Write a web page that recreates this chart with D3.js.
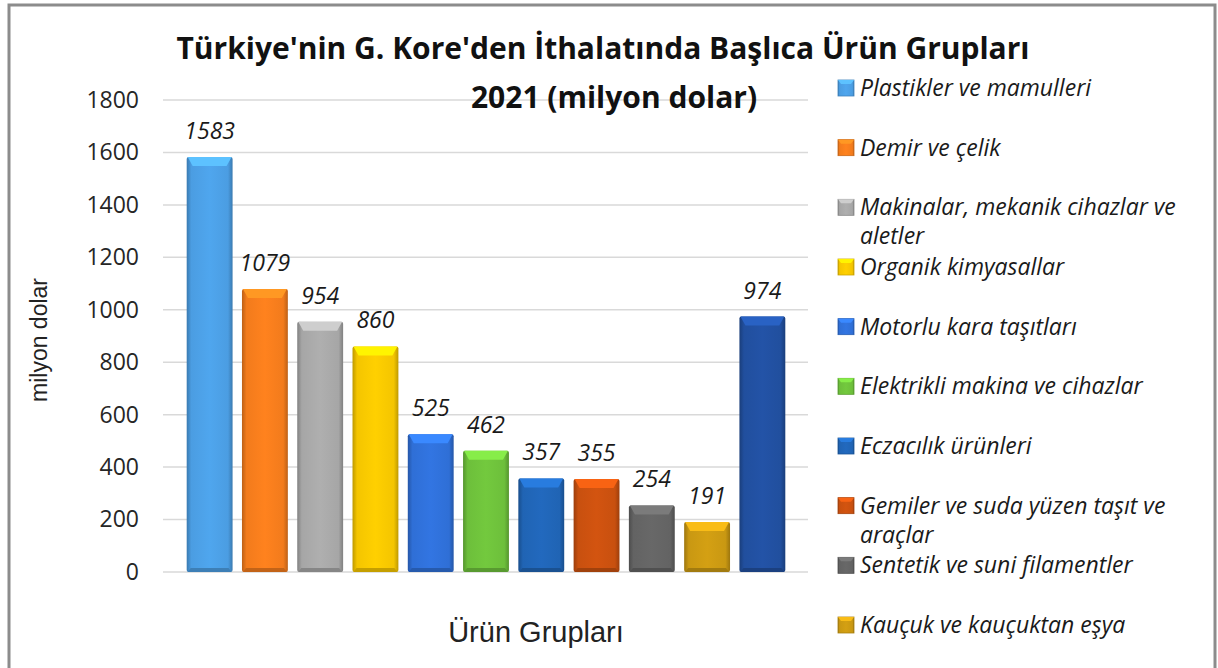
<!DOCTYPE html>
<html>
<head>
    <meta charset="utf-8">
    <title>Türkiye G. Kore ithalat</title>
    <script src="https://d3js.org/d3.v7.min.js"></script>
    <style>
        body { margin: 0; background: #fff; }
        svg { display: block; }
    </style>
</head>
<body>
    <svg id="chart"></svg>

    <script>
        // Data
        const categories = [
            "Plastikler ve mamulleri",
            "Demir ve çelik",
            "Makinalar, mekanik cihazlar ve aletler",
            "Organik kimyasallar",
            "Motorlu kara taşıtları",
            "Elektrikli makina ve cihazlar",
            "Eczacılık ürünleri",
            "Gemiler ve suda yüzen taşıt ve araçlar",
            "Sentetik ve suni filamentler",
            "Kauçuk ve kauçuktan eşya",
            "Diğer"
        ];
        const values = [1583, 1079, 954, 860, 525, 462, 357, 355, 254, 191, 974];
        const yTicks = [0, 200, 400, 600, 800, 1000, 1200, 1400, 1600, 1800];

        // Legend text, wrapped like in the original (last bar has no legend entry)
        const legendLines = [
            ["Plastikler ve mamulleri"],
            ["Demir ve çelik"],
            ["Makinalar, mekanik cihazlar ve", "aletler"],
            ["Organik kimyasallar"],
            ["Motorlu kara taşıtları"],
            ["Elektrikli makina ve cihazlar"],
            ["Eczacılık ürünleri"],
            ["Gemiler ve suda yüzen taşıt ve", "araçlar"],
            ["Sentetik ve suni filamentler"],
            ["Kauçuk ve kauçuktan eşya"]
        ];

        const colors = ["#4b9de2", "#f27b1c", "#a6a6a6", "#f4c500", "#2f6fd6",
                        "#6dbf3b", "#2064b4", "#c8500f", "#636363", "#c99812", "#214f9e"];

        const width = 1218, height = 668;
        const svg = d3.select("#chart")
            .attr("width", width)
            .attr("height", height);

        // Outer frame
        svg.append("rect")
            .attr("x", 9).attr("y", 5)
            .attr("width", 1206).attr("height", 680)
            .attr("fill", "#fff")
            .attr("stroke", "#8c8c8c")
            .attr("stroke-width", 3);

        // Scales
        const x = d3.scaleBand()
            .domain(categories)
            .range([182, 790])
            .paddingInner(0.17)
            .paddingOuter(0.085);

        const y = d3.scaleLinear()
            .domain([0, 1800])
            .range([572, 100]);

        // Gradients for the bevelled bars
        const defs = svg.append("defs");
        colors.forEach((c, i) => {
            const g = defs.append("linearGradient")
                .attr("id", "grad" + i)
                .attr("x1", "0%").attr("x2", "100%");
            g.append("stop").attr("offset", "0%").attr("stop-color", d3.color(c).darker(0.7));
            g.append("stop").attr("offset", "10%").attr("stop-color", c);
            g.append("stop").attr("offset", "50%").attr("stop-color", d3.color(c).brighter(0.15));
            g.append("stop").attr("offset", "90%").attr("stop-color", c);
            g.append("stop").attr("offset", "100%").attr("stop-color", d3.color(c).darker(0.7));
        });

        // Gridlines
        svg.append("g")
            .selectAll("line")
            .data(yTicks)
            .join("line")
                .attr("x1", 163).attr("x2", 808)
                .attr("y1", d => y(d)).attr("y2", d => y(d))
                .attr("stroke", "#d9d9d9")
                .attr("stroke-width", 1.5);

        // Y axis tick labels
        const yAxis = d3.axisLeft(y).tickValues(yTicks).tickFormat(d3.format("d"))
            .tickSize(0).tickPadding(0);
        svg.append("g")
            .attr("transform", "translate(139,0)")
            .call(yAxis)
            .call(g => g.select(".domain").remove())
            .selectAll("text")
                .attr("fill", "#262626")
                .style("font-family", "'Open Sans', sans-serif")
                .style("font-size", "23px");

        // Bars
        const bars = svg.append("g")
            .selectAll("g")
            .data(values)
            .join("g");

        bars.append("rect")
            .attr("x", (d, i) => x(categories[i]))
            .attr("y", d => y(d))
            .attr("width", x.bandwidth())
            .attr("height", d => y(0) - y(d))
            .attr("rx", 2)
            .attr("fill", (d, i) => `url(#grad${i})`);

        // top bevel
        bars.append("path")
            .attr("d", (d, i) => {
                const x0 = x(categories[i]), w = x.bandwidth(), t = y(d);
                return `M${x0 + 1},${t} L${x0 + w - 1},${t} L${x0 + w - 6},${t + 9} L${x0 + 6},${t + 9} Z`;
            })
            .attr("fill", (d, i) => d3.color(colors[i]).brighter(0.6));

        // bottom bevel
        bars.append("path")
            .attr("d", (d, i) => {
                const x0 = x(categories[i]), w = x.bandwidth(), b = y(0);
                return `M${x0 + 1},${b} L${x0 + w - 1},${b} L${x0 + w - 4},${b - 4} L${x0 + 4},${b - 4} Z`;
            })
            .attr("fill", (d, i) => d3.color(colors[i]).darker(0.6));

        // Value labels
        svg.append("g")
            .selectAll("text")
            .data(values)
            .join("text")
                .attr("x", (d, i) => x(categories[i]) + x.bandwidth() / 2)
                .attr("y", d => y(d) - 18)
                .attr("text-anchor", "middle")
                .attr("fill", "#1a1a1a")
                .style("font-family", "'Open Sans', sans-serif")
                .style("font-style", "italic")
                .style("font-size", "23px")
                .text(d => d);

        // Title
        const title = svg.append("text")
            .attr("text-anchor", "middle")
            .attr("fill", "#111")
            .style("font-family", "'Open Sans', sans-serif")
            .style("font-weight", "bold")
            .style("font-size", "30px");
        title.append("tspan").attr("x", 603).attr("y", 59)
            .text("Türkiye'nin G. Kore'den İthalatında Başlıca Ürün Grupları");
        title.append("tspan").attr("x", 614).attr("y", 108)
            .text("2021 (milyon dolar)");

        // Axis titles
        svg.append("text")
            .attr("transform", "translate(47,340) rotate(-90)")
            .attr("text-anchor", "middle")
            .attr("fill", "#222")
            .style("font-family", "'Liberation Sans', Arial, sans-serif")
            .style("font-size", "23px")
            .text("milyon dolar");

        svg.append("text")
            .attr("x", 536).attr("y", 642)
            .attr("text-anchor", "middle")
            .attr("fill", "#222")
            .style("font-family", "'Liberation Sans', Arial, sans-serif")
            .style("font-size", "29px")
            .text("Ürün Grupları");

        // Legend
        const ly = d3.scalePoint()
            .domain(d3.range(legendLines.length))
            .range([88, 625]);

        const legend = svg.append("g")
            .selectAll("g")
            .data(legendLines)
            .join("g")
                .attr("transform", (d, i) => `translate(838,${ly(i)})`);

        legend.append("rect")
            .attr("x", 0).attr("y", -8)
            .attr("width", 16).attr("height", 16)
            .attr("fill", (d, i) => `url(#grad${i})`)
            .attr("stroke", (d, i) => d3.color(colors[i]).darker(0.5))
            .attr("stroke-width", 0.8);

        legend.append("path")
            .attr("d", "M0,-8 L16,-8 L13,-4 L3,-4 Z")
            .attr("fill", (d, i) => d3.color(colors[i]).brighter(0.6));

        legend.append("text")
            .attr("fill", "#1a1a1a")
            .style("font-family", "'Open Sans', sans-serif")
            .style("font-style", "italic")
            .style("font-size", "23px")
            .selectAll("tspan")
            .data(d => d)
            .join("tspan")
                .attr("x", 22)
                .attr("y", (d, j) => 8 + j * 29)
                .text(d => d);
    </script>
</body>
</html>
